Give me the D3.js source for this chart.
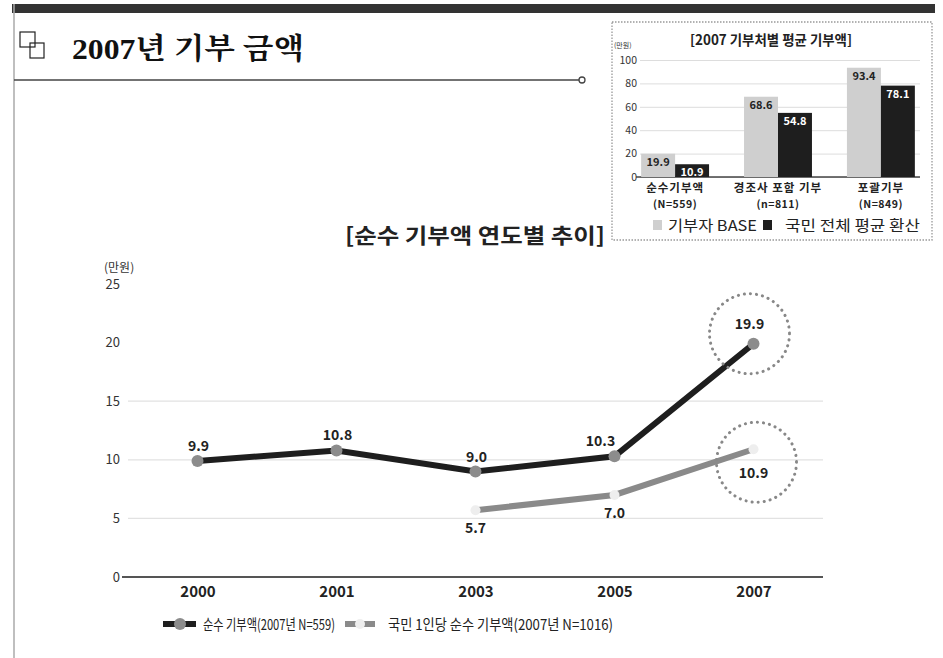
<!DOCTYPE html>
<html><head><meta charset="utf-8">
<script src="https://cdn.jsdelivr.net/npm/d3@7/dist/d3.min.js"></script>
<style>body{margin:0;background:#fff}svg{display:block}</style>
</head><body>
<script>
// Main line chart data
const years = ["2000","2001","2003","2005","2007"];
const netDonation = [9.9, 10.8, 9.0, 10.3, 19.9];
const perCapita = [null, null, 5.7, 7.0, 10.9];
const mainTicks = [0,5,10,15,20,25];
const gridTicks = [5,10,15];
const seriesNames = ["순수 기부액(2007년 N=559)", "국민 1인당 순수 기부액(2007년 N=1016)"];

// Inset bar chart data
const insetCats = [["순수기부액","(N=559)"],["경조사 포함 기부","(n=811)"],["포괄기부","(N=849)"]];
const donorBase = [19.9, 68.6, 93.4];
const nationalAvg = [10.9, 54.8, 78.1];
const insetTicks = [0,20,40,60,80,100];
const insetLegend = ["기부자 BASE", "국민 전체 평균 환산"];

const W=943,H=658;
const svg=d3.select("body").append("svg").attr("width",W).attr("height",H);
const font="'Noto Sans CJK KR','Noto Sans',sans-serif";

// page frame
svg.append("rect").attr("x",12).attr("y",4).attr("width",923).attr("height",9).attr("fill","#333");
svg.append("line").attr("x1",14).attr("x2",14).attr("y1",4).attr("y2",H).attr("stroke","#aaa").attr("stroke-width",1.5);
// title icon
const ic=svg.append("g").attr("fill","none").attr("stroke","#222").attr("stroke-width",1.2);
ic.append("rect").attr("x",20).attr("y",32).attr("width",15).attr("height",15);
ic.append("rect").attr("x",30).attr("y",43).attr("width",14).attr("height",15);
svg.append("text").attr("x",72).attr("y",59).attr("font-family","'Liberation Serif','Noto Serif CJK KR','Noto Sans CJK KR',serif")
  .attr("font-weight","bold").attr("font-size",29).attr("fill","#111")
  .attr("textLength",232).attr("lengthAdjust","spacingAndGlyphs").text("2007년 기부 금액");
svg.append("line").attr("x1",14).attr("x2",579).attr("y1",80).attr("y2",80).attr("stroke","#444").attr("stroke-width",1.3);
svg.append("circle").attr("cx",582).attr("cy",80).attr("r",3).attr("fill","#fff").attr("stroke","#444").attr("stroke-width",1.3);

// ===== Main chart =====
const x=d3.scalePoint().domain(years).range([128,823]).padding(0.5);
const y=d3.scaleLinear().domain([0,25]).range([577,284]);

svg.append("text").attr("x",345).attr("y",243).attr("font-family",font).attr("font-weight","bold")
  .attr("font-size",21).attr("fill","#222").attr("textLength",260).attr("lengthAdjust","spacingAndGlyphs")
  .text("[순수 기부액 연도별 추이]");
svg.append("text").attr("x",104).attr("y",272).attr("font-family",font).attr("font-size",12).attr("fill","#333").text("(만원)");

// gridlines
svg.append("g").selectAll("line").data(gridTicks).join("line")
  .attr("x1",128).attr("x2",823).attr("y1",d=>y(d)).attr("y2",d=>y(d)).attr("stroke","#e2e2e2").attr("stroke-width",1.2);

const yAxis=svg.append("g").attr("transform","translate(128,0)")
  .call(d3.axisLeft(y).tickValues(mainTicks).tickSize(0).tickPadding(8));
yAxis.select(".domain").remove();
yAxis.selectAll("text").attr("font-family",font).attr("font-size",13).attr("fill","#333");
svg.append("line").attr("x1",122).attr("x2",823).attr("y1",y(0)).attr("y2",y(0)).attr("stroke","#555").attr("stroke-width",2);

const xAxis=svg.append("g").attr("transform","translate(0,577)")
  .call(d3.axisBottom(x).tickSize(0).tickPadding(9));
xAxis.select(".domain").remove();
xAxis.selectAll("text").attr("font-family",font).attr("font-weight","bold").attr("font-size",15).attr("fill","#222");

const line=d3.line().defined(d=>d.v!=null).x(d=>x(d.k)).y(d=>y(d.v));
const s1=years.map((k,i)=>({k,v:netDonation[i]}));
const s2=years.map((k,i)=>({k,v:perCapita[i]}));

svg.append("path").datum(s2).attr("d",line).attr("fill","none").attr("stroke","#8a8a8a").attr("stroke-width",6);
svg.append("path").datum(s1).attr("d",line).attr("fill","none").attr("stroke","#1e1e1e").attr("stroke-width",6);

svg.selectAll(".m2").data(s2.filter(d=>d.v!=null)).join("circle").attr("cx",d=>x(d.k)).attr("cy",d=>y(d.v))
  .attr("r",5).attr("fill","#eeeeee");
svg.selectAll(".m1").data(s1).join("circle").attr("cx",d=>x(d.k)).attr("cy",d=>y(d.v))
  .attr("r",6).attr("fill","#8c8c8c");

svg.selectAll(".l1").data(s1).join("text").attr("x",d=>x(d.k)-(d.k==="2005"?14:d.k==="2007"?4:-1)).attr("y",d=>y(d.v)-(d.k==="2007"?15:10))
  .attr("text-anchor","middle").attr("font-family",font).attr("font-weight","bold").attr("font-size",14).attr("fill","#222")
  .text(d=>d.v.toFixed(1));
svg.selectAll(".l2").data(s2.filter(d=>d.v!=null)).join("text").attr("x",d=>x(d.k)).attr("y",d=>y(d.v)+(d.k==="2007"?29:23))
  .attr("text-anchor","middle").attr("font-family",font).attr("font-weight","bold").attr("font-size",14).attr("fill","#222")
  .text(d=>d.v.toFixed(1));

// dotted highlight circles at 2007
const last=years[years.length-1];
svg.append("circle").attr("cx",x(last)-4).attr("cy",y(netDonation[4])-10).attr("r",40)
  .attr("fill","none").attr("stroke","#888").attr("stroke-width",3).attr("stroke-dasharray","0.1 6").attr("stroke-linecap","round");
svg.append("circle").attr("cx",x(last)+3).attr("cy",y(perCapita[4])+13).attr("r",40)
  .attr("fill","none").attr("stroke","#888").attr("stroke-width",3).attr("stroke-dasharray","0.1 6").attr("stroke-linecap","round");

// legend
const lg=svg.append("g").attr("transform","translate(163,624)");
lg.append("line").attr("x1",0).attr("x2",33).attr("stroke","#1e1e1e").attr("stroke-width",6);
lg.append("circle").attr("cx",17).attr("r",6).attr("fill","#8c8c8c");
lg.append("text").attr("x",40).attr("y",6).attr("font-family",font).attr("font-size",15).attr("fill","#222")
  .attr("textLength",132).attr("lengthAdjust","spacingAndGlyphs").text(seriesNames[0]);
lg.append("line").attr("x1",182).attr("x2",212).attr("stroke","#8a8a8a").attr("stroke-width",6);
lg.append("circle").attr("cx",197).attr("r",5).attr("fill","#eeeeee");
lg.append("text").attr("x",225).attr("y",6).attr("font-family",font).attr("font-size",15).attr("fill","#222")
  .attr("textLength",225).attr("lengthAdjust","spacingAndGlyphs").text(seriesNames[1]);

// ===== Inset chart =====
svg.append("rect").attr("x",612).attr("y",22).attr("width",320).attr("height",218)
  .attr("fill","#fff").attr("stroke","#999").attr("stroke-width",1.3).attr("stroke-dasharray","1.5 1.5");
svg.append("text").attr("x",771).attr("y",45).attr("text-anchor","middle").attr("font-family",font).attr("font-weight","bold")
  .attr("font-size",14).attr("fill","#222").attr("textLength",162).attr("lengthAdjust","spacingAndGlyphs")
  .text("[2007 기부처별 평균 기부액]");
svg.append("text").attr("x",614).attr("y",48).attr("font-family",font).attr("font-size",7).attr("fill","#333").text("(만원)");

const iy=d3.scaleLinear().domain([0,100]).range([177,60]);
const ix=d3.scaleBand().domain(insetCats.map(d=>d[0])).range([636,920]).paddingInner(0.34).paddingOuter(0.05);
const isub=d3.scaleBand().domain([0,1]).range([0,ix.bandwidth()]);

const iya=svg.append("g").attr("transform","translate(640,0)")
  .call(d3.axisLeft(iy).tickValues(insetTicks).tickSize(-280).tickPadding(3));
iya.select(".domain").remove();
iya.selectAll(".tick line").attr("stroke","#ddd");
iya.selectAll("text").attr("font-family",font).attr("font-size",10.5).attr("fill","#333");
svg.append("line").attr("x1",636).attr("x2",920).attr("y1",177).attr("y2",177).attr("stroke","#444").attr("stroke-width",1.5);

const groups=svg.append("g").selectAll("g").data(insetCats.map((c,i)=>({c:c[0],vals:[donorBase[i],nationalAvg[i]]})))
  .join("g").attr("transform",d=>`translate(${ix(d.c)},0)`);
groups.selectAll("rect").data(d=>d.vals).join("rect").attr("x",(d,i)=>isub(i)).attr("width",isub.bandwidth())
  .attr("y",d=>iy(d)).attr("height",d=>177-iy(d)).attr("fill",(d,i)=>i===0?"#cfcfcf":"#1e1e1e");
groups.selectAll("text.v").data(d=>d.vals).join("text").attr("class","v").attr("x",(d,i)=>isub(i)+isub.bandwidth()/2)
  .attr("y",d=>iy(d)+12).attr("text-anchor","middle").attr("font-family",font).attr("font-weight","bold")
  .attr("font-size",11).attr("fill",(d,i)=>i===0?"#222":"#fff").text(d=>d.toFixed(1));

const ixa=svg.append("g");
insetCats.forEach(c=>{
  const cx=ix(c[0])+ix.bandwidth()/2;
  ixa.append("text").attr("x",cx).attr("y",192).attr("text-anchor","middle").attr("font-family",font).attr("font-weight","bold")
    .attr("font-size",11.5).attr("letter-spacing",1).attr("fill","#222").text(c[0]);
  ixa.append("text").attr("x",cx).attr("y",208).attr("text-anchor","middle").attr("font-family",font).attr("font-weight","bold")
    .attr("font-size",10.5).attr("letter-spacing",0.5).attr("fill","#222").text(c[1]);
});
const il=svg.append("g").attr("transform","translate(653,231)");
il.append("rect").attr("x",0).attr("y",-11).attr("width",9).attr("height",10).attr("fill","#cfcfcf");
il.append("text").attr("x",15).attr("y",0).attr("font-family",font).attr("font-size",15).attr("fill","#222")
  .attr("textLength",89).attr("lengthAdjust","spacingAndGlyphs").text(insetLegend[0]);
il.append("rect").attr("x",110).attr("y",-11).attr("width",9).attr("height",10).attr("fill","#1e1e1e");
il.append("text").attr("x",132).attr("y",0).attr("font-family",font).attr("font-size",15).attr("fill","#222")
  .attr("textLength",135).attr("lengthAdjust","spacingAndGlyphs").text(insetLegend[1]);
</script>
</body></html>
